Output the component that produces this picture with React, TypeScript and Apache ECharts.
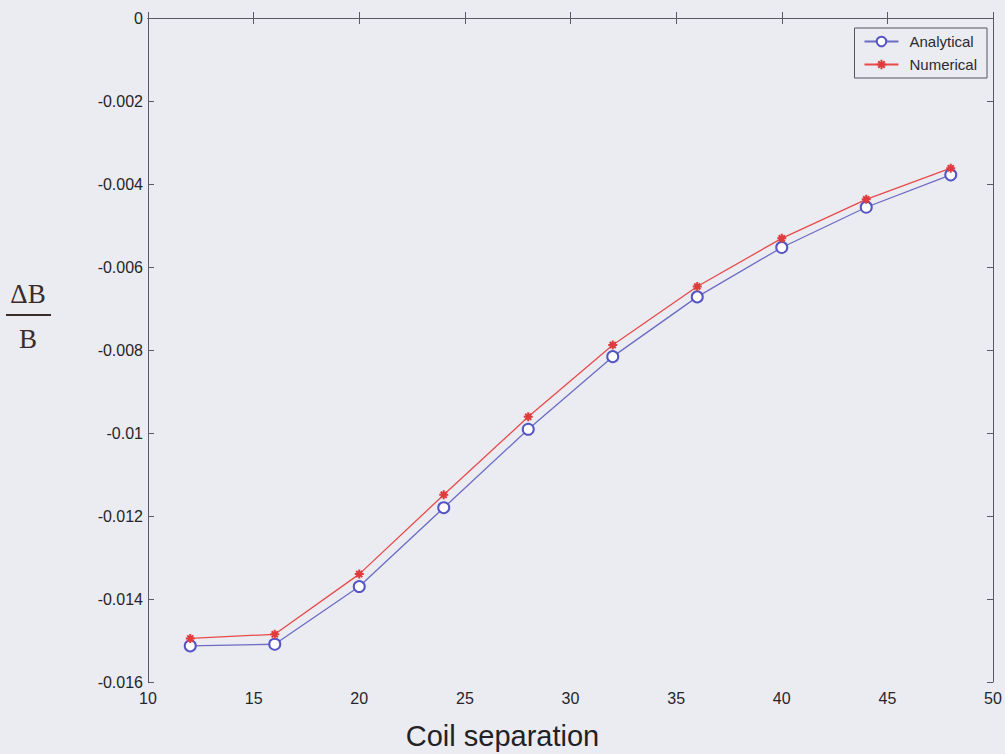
import React, { useEffect, useRef } from "react";
import * as echarts from "echarts";

const coilSeparation = [12, 16, 20, 24, 28, 32, 36, 40, 44, 48];
const analytical = [-0.01513, -0.01509, -0.0137, -0.0118, -0.00991, -0.00816, -0.00672, -0.00553, -0.00456, -0.00378];
const numerical = [-0.01495, -0.01485, -0.0134, -0.01149, -0.00961, -0.00788, -0.00647, -0.00531, -0.00437, -0.00362];
const seriesNames = ["Analytical", "Numerical"];
const xAxisTitle = "Coil separation";

const asterisk = "path://M5 0 L5 10 M0 5 L10 5 M1.6 1.6 L8.4 8.4 M1.6 8.4 L8.4 1.6";

export default function App() {
  const ref = useRef<HTMLDivElement>(null);
  useEffect(() => {
    document.body.style.margin = "0";
    const chart = echarts.init(ref.current!, null, { renderer: "svg" });
    const axisColor = "#5a5a62";
    const labelStyle = { color: "#262629", fontSize: 16, fontFamily: "Liberation Sans, Arial, sans-serif" };
    const fmtY = (v: number) => String(parseFloat(v.toFixed(3)));
    const baseAxis = {
      axisLine: { show: true, lineStyle: { color: axisColor, width: 1 } },
      axisTick: { show: true, inside: true, length: 6, lineStyle: { color: axisColor } },
      splitLine: { show: false },
    };
    chart.setOption({
      animation: false,
      backgroundColor: "#ebebf2",
      grid: { left: 148, right: 12, top: 18, bottom: 72, containLabel: false },
      legend: {
        orient: "vertical",
        right: 18,
        top: 28,
        itemWidth: 34,
        itemHeight: 12,
        itemGap: 8,
        padding: [6, 10, 6, 9],
        borderColor: "#55555c",
        borderWidth: 1,
        backgroundColor: "#ebebf2",
        textStyle: { ...labelStyle, fontSize: 15, color: "#2a2a30", padding: [0, 0, 0, 6] },
        data: seriesNames,
      },
      xAxis: [
        {
          ...baseAxis,
          type: "value",
          min: 10,
          max: 50,
          interval: 5,
          position: "bottom",
          axisLabel: { ...labelStyle, margin: 8 },
        },
        {
          ...baseAxis,
          type: "value",
          min: 10,
          max: 50,
          interval: 5,
          position: "top",
          axisLabel: { show: false },
        },
      ],
      yAxis: [
        {
          ...baseAxis,
          type: "value",
          min: -0.016,
          max: 0,
          interval: 0.002,
          position: "left",
          axisLabel: { ...labelStyle, margin: 5, formatter: fmtY },
        },
        {
          ...baseAxis,
          type: "value",
          min: -0.016,
          max: 0,
          interval: 0.002,
          position: "right",
          axisLabel: { show: false },
        },
      ],
      series: [
        {
          name: seriesNames[0],
          type: "line",
          xAxisIndex: 0,
          yAxisIndex: 0,
          data: coilSeparation.map((x, i) => [x, analytical[i]]),
          symbol: "emptyCircle",
          symbolSize: 11,
          showAllSymbol: true,
          lineStyle: { color: "#6c6cc4", width: 1.3 },
          itemStyle: { color: "#5454c4", borderColor: "#5454c4", borderWidth: 1.2 },
        },
        {
          name: seriesNames[1],
          type: "line",
          xAxisIndex: 0,
          yAxisIndex: 0,
          data: coilSeparation.map((x, i) => [x, numerical[i]]),
          symbol: asterisk,
          symbolSize: 9,
          showAllSymbol: true,
          lineStyle: { color: "#e84a4a", width: 1.3 },
          itemStyle: { color: "transparent", borderColor: "#e03a3a", borderWidth: 2 },
        },
      ],
      graphic: [
        {
          type: "text",
          left: "center",
          top: 721,
          style: {
            text: xAxisTitle,
            fill: "#222226",
            fontSize: 29,
            fontFamily: "Liberation Sans, Arial, sans-serif",
          },
        },
        {
          type: "text",
          x: 28,
          y: 294,
          style: {
            text: "\u0394B",
            fill: "#3a2c2c",
            fontSize: 27,
            fontFamily: "Liberation Serif, Times New Roman, serif",
            align: "center",
            verticalAlign: "middle",
          },
        },
        {
          type: "line",
          shape: { x1: 6, y1: 315, x2: 51, y2: 315 },
          style: { stroke: "#3a2c2c", lineWidth: 2 },
        },
        {
          type: "text",
          x: 28,
          y: 339,
          style: {
            text: "B",
            fill: "#3a2c2c",
            fontSize: 27,
            fontFamily: "Liberation Serif, Times New Roman, serif",
            align: "center",
            verticalAlign: "middle",
          },
        },
      ],
    });
    return () => chart.dispose();
  }, []);
  return <div ref={ref} style={{ position: "fixed", left: 0, top: 0, width: 1005, height: 754 }} />;
}
